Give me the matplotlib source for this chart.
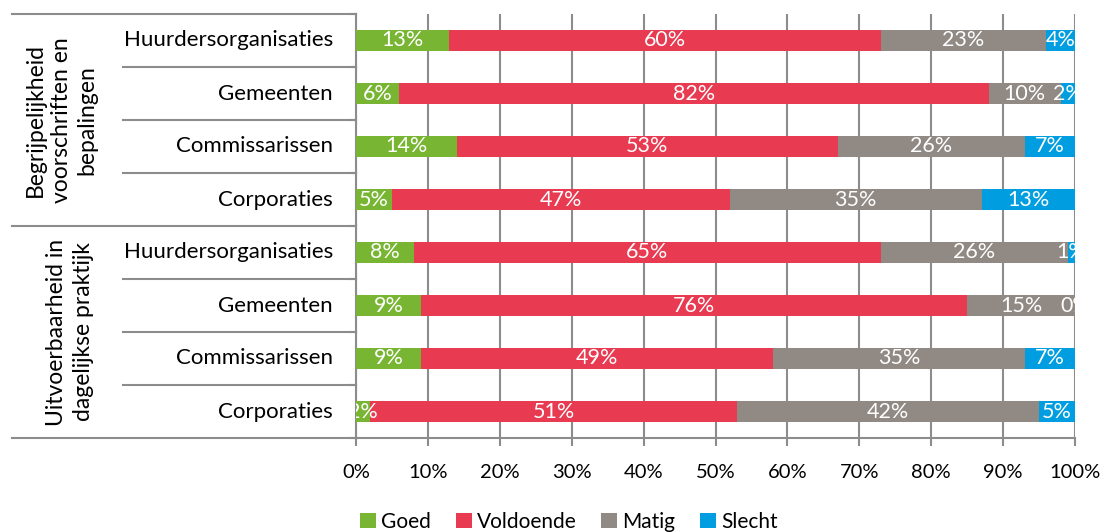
import numpy as np
import matplotlib.pyplot as plt

# data
groups = ['Begrijpelijkheid\nvoorschriften en\nbepalingen',
          'Uitvoerbaarheid in\ndagelijkse praktijk']
categories = ['Huurdersorganisaties', 'Gemeenten', 'Commissarissen', 'Corporaties',
              'Huurdersorganisaties', 'Gemeenten', 'Commissarissen', 'Corporaties']
series = ['Goed', 'Voldoende', 'Matig', 'Slecht']
goed = [13, 6, 14, 5, 8, 9, 9, 2]
voldoende = [60, 82, 53, 47, 65, 76, 49, 51]
matig = [23, 10, 26, 35, 26, 15, 35, 42]
slecht = [4, 2, 7, 13, 1, 0, 7, 5]

colors = ['#77B533', '#E83A51', '#918983', '#009EE0']
grid_c = '#8C8C8C'

plt.rcParams['font.family'] = ['Lato', 'DejaVu Sans']

fig = plt.figure(figsize=(11.05, 5.32), dpi=100)
ax = fig.add_axes([356 / 1105, 1 - 438 / 532, 719 / 1105, 424 / 532])

y = np.arange(len(categories))
left = np.zeros(len(categories))
for name, vals, c in zip(series, [goed, voldoende, matig, slecht], colors):
    vals = np.array(vals, dtype=float)
    ax.barh(y, vals, left=left, height=0.4, color=c, label=name, zorder=3)
    for yi, (l, v) in enumerate(zip(left, vals)):
        ax.text(l + v / 2, yi, f'{int(v)}%', ha='center', va='center',
                color='white', fontsize=15.5, zorder=4, clip_on=True)
    left += vals

ax.set_xlim(0, 100)
ax.set_ylim(len(categories) - 0.5, -0.5)
ax.set_xticks(np.arange(0, 101, 10))
ax.set_xticklabels([f'{v}%' for v in range(0, 101, 10)], fontsize=14.5)
ax.tick_params(axis='x', length=6, color=grid_c, width=1.5, pad=13)
ax.set_yticks([])
ax.xaxis.grid(True, color=grid_c, linewidth=1.5, zorder=0)
for s in ['top', 'right']:
    ax.spines[s].set_visible(False)
for s in ['left', 'bottom']:
    ax.spines[s].set_color(grid_c)
    ax.spines[s].set_linewidth(1.5)

# table on the left
tr = ax.get_yaxis_transform()
x_outer = (12 - 356) / 719
x_inner = (123 - 356) / 719
for b in np.arange(-0.5, len(categories) + 0.5, 1.0):
    x0 = x_outer if b in (-0.5, 3.5, 7.5) else x_inner
    ax.plot([x0, 0], [b, b], transform=tr, color=grid_c, lw=1.5, clip_on=False)
    ax.plot([-0.009, 0], [b, b], transform=tr, color=grid_c, lw=1.5, clip_on=False)

for yi, cat in enumerate(categories):
    ax.text((333 - 356) / 719, yi, cat, transform=tr, ha='right', va='center',
            fontsize=16)

x_grp = (61 - 356) / 719
ax.text(x_grp, 1.5, groups[0], transform=tr, rotation=90, ha='center',
        va='center', fontsize=16.5, linespacing=1.3)
x_grp2 = (70 - 356) / 719
ax.text(x_grp2, 5.5, groups[1], transform=tr, rotation=90, ha='center',
        va='center', fontsize=16.5, linespacing=1.3)

fig.legend(loc='lower center', bbox_to_anchor=(569 / 1105, -0.035), ncol=4,
           frameon=False, fontsize=15, handlelength=0.75, handleheight=0.75,
           handletextpad=0.25, columnspacing=1.2)

fig.savefig('out.png', dpi=100)
